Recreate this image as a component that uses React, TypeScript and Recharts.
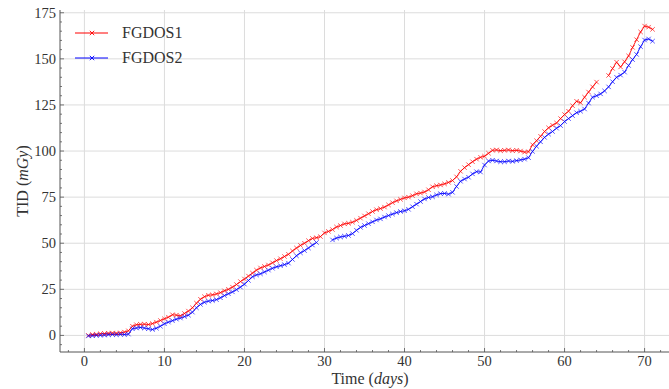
import { LineChart, Line, XAxis, YAxis, CartesianGrid } from 'recharts';

const days = [
  0.5, 1, 1.5, 2, 2.5, 3, 3.5, 4, 4.5, 5, 5.5, 6, 6.5, 7, 7.5, 8, 8.5, 9, 9.5, 10,
  10.5, 11, 11.5, 12, 12.5, 13, 13.5, 14, 14.5, 15, 15.5, 16, 16.5, 17, 17.5, 18, 18.5, 19, 19.5, 20,
  20.5, 21, 21.5, 22, 22.5, 23, 23.5, 24, 24.5, 25, 25.5, 26, 26.5, 27, 27.5, 28, 28.5, 29, 29.5, 30,
  30.5, 31, 31.5, 32, 32.5, 33, 33.5, 34, 34.5, 35, 35.5, 36, 36.5, 37, 37.5, 38, 38.5, 39, 39.5, 40,
  40.5, 41, 41.5, 42, 42.5, 43, 43.5, 44, 44.5, 45, 45.5, 46, 46.5, 47, 47.5, 48, 48.5, 49, 49.5, 50,
  50.5, 51, 51.5, 52, 52.5, 53, 53.5, 54, 54.5, 55, 55.5, 56, 56.5, 57, 57.5, 58, 58.5, 59, 59.5, 60,
  60.5, 61, 61.5, 62, 62.5, 63, 63.5, 64, 64.5, 65, 65.5, 66, 66.5, 67, 67.5, 68, 68.5, 69, 69.5, 70,
  70.5, 71,
];

// FGDOS1 (red)
const fgdos1 = [
  0.0, 0.5, 0.6, 0.9, 1.0, 1.2, 1.3, 1.2, 1.4, 1.8, 2.5, 5.0, 5.8, 6.0, 6.1, 5.9, 6.4, 7.2, 8.1, 9.0,
  9.9, 11.2, 11.0, 10.6, 11.9, 13.2, 15.0, 17.5, 19.6, 21.0, 21.8, 22.0, 22.5, 23.2, 24.2, 25.0, 26.2, 27.6, 29.2, 30.6,
  32.2, 33.8, 35.4, 36.6, 37.4, 38.2, 39.4, 40.6, 41.6, 42.8, 44.0, 45.8, 47.4, 48.8, 50.0, 51.4, 52.6, 53.0, 53.6, 55.6,
  56.4, 57.4, 58.8, 59.6, 60.5, 60.8, 61.4, 62.4, 63.6, 64.8, 66.0, 67.2, 68.2, 68.8, 69.6, 70.8, 72.0, 73.0, 73.8, 74.6,
  75.0, 75.8, 76.8, 77.2, 77.8, 79.0, 80.6, 81.2, 81.6, 82.2, 83.0, 84.0, 86.0, 89.0, 91.0, 92.6, 94.2, 95.6, 96.6, 97.2,
  98.8, 100.4, 100.6, 100.2, 100.4, 100.6, 100.2, 100.4, 100.0, 99.4, 99.6, 103.4, 105.6, 108.0, 110.6, 112.6, 114.0, 115.2, 117.6, 119.8,
  121.6, 124.6, 127.0, 126.2, 129.2, 132.0, 134.8, 137.4, null, null, 141.0, 144.8, 148.2, 145.6, 148.4, 151.6, 156.2, 160.4, 164.6, 167.8,
  167.2, 166.0,
];

// FGDOS2 (blue)
const fgdos2 = [
  -0.3, -0.2, 0.0, 0.1, 0.2, 0.4, 0.5, 0.4, 0.6, 0.5, 0.7, 3.6, 4.0, 4.3, 4.0, 3.6, 3.2, 3.9, 5.0, 6.3,
  7.2, 8.0, 8.8, 9.4, 10.2, 11.0, 12.6, 15.0, 16.8, 18.0, 18.6, 18.9, 19.4, 20.4, 21.6, 22.6, 23.6, 24.8, 26.2, 27.8,
  29.8, 31.8, 32.8, 33.4, 34.4, 35.4, 36.4, 37.2, 37.8, 38.4, 39.2, 41.2, 43.2, 44.8, 46.0, 47.4, 49.0, 50.4, null, null,
  null, 51.8, 52.8, 53.4, 53.8, 54.2, 55.2, 57.0, 58.6, 59.6, 60.6, 61.6, 62.6, 63.2, 64.2, 65.0, 65.8, 66.6, 67.2, 67.6,
  68.4, 69.8, 71.2, 72.6, 74.0, 74.8, 75.2, 76.2, 76.9, 77.0, 76.6, 77.6, 80.8, 83.6, 84.8, 85.8, 87.6, 88.8, 88.6, 92.4,
  94.6, 95.0, 94.6, 94.2, 94.2, 94.6, 94.4, 94.8, 95.2, 95.6, 96.4, 99.8, 102.6, 105.0, 107.4, 109.2, 110.6, 112.4, 113.8, 116.0,
  117.6, 119.2, 120.8, 121.6, 122.8, 126.0, 129.2, 130.0, 131.0, 132.6, 134.8, 137.6, 140.0, 141.2, 142.8, 146.4, 149.6, 152.4, 156.6, 160.2,
  160.8, 159.6,
];

const seriesNames = ['FGDOS1', 'FGDOS2'];
const xMajorTicks = [0, 10, 20, 30, 40, 50, 60, 70];
const yMajorTicks = [0, 25, 50, 75, 100, 125, 150, 175];

const data = days.map((d, i) => ({ day: d, FGDOS1: fgdos1[i], FGDOS2: fgdos2[i] }));

const xMinor: number[] = [];
for (let v = -2; v <= 74; v += 2) if (v % 10 !== 0) xMinor.push(v);
const yMinor: number[] = [];
for (let v = -5; v <= 175; v += 5) if (v % 25 !== 0) yMinor.push(v);
const xAllTicks = [...xMajorTicks, ...xMinor].sort((a, b) => a - b);
const yAllTicks = [...yMajorTicks, ...yMinor].sort((a, b) => a - b);

const FONT = '"Liberation Serif", "DejaVu Serif", serif';
const AXIS = '#555';
const TEXT = '#333';
const colors: Record<string, string> = { FGDOS1: '#ff0000', FGDOS2: '#0000ff' };

const BottomTick = (props: any) => {
  const { x, y, payload } = props;
  const major = xMajorTicks.includes(payload.value);
  return (
    <g>
      <line x1={x} x2={x} y1={y} y2={y - (major ? 4 : 2)} stroke={AXIS} strokeWidth={0.8} />
      {major && (
        <text x={x} y={y + 14} textAnchor="middle" fontFamily={FONT} fontSize={14.5} fill={TEXT}>
          {payload.value}
        </text>
      )}
    </g>
  );
};

const TopTick = (props: any) => {
  const { x, y, payload } = props;
  const major = xMajorTicks.includes(payload.value);
  return <line x1={x} x2={x} y1={y} y2={y + (major ? 4 : 2)} stroke={AXIS} strokeWidth={0.8} />;
};

const LeftTick = (props: any) => {
  const { x, y, payload } = props;
  const major = yMajorTicks.includes(payload.value);
  return (
    <g>
      <line x1={x} x2={x + (major ? 4 : 2)} y1={y} y2={y} stroke={AXIS} strokeWidth={0.8} />
      {major && (
        <text x={x - 4} y={y + 5} textAnchor="end" fontFamily={FONT} fontSize={14.5} fill={TEXT}>
          {payload.value}
        </text>
      )}
    </g>
  );
};

const crossDot = (color: string) => (props: any) => {
  const { cx, cy, index, value } = props;
  if (cx == null || cy == null || value == null) return <g key={index} />;
  const s = 2.2;
  return (
    <path
      key={index}
      d={`M${cx - s},${cy - s}L${cx + s},${cy + s}M${cx - s},${cy + s}L${cx + s},${cy - s}`}
      stroke={color}
      strokeWidth={0.9}
      strokeOpacity={0.75}
      fill="none"
    />
  );
};

// legend drawn as an overlay so it does not take space from the plot
const LegendBox = () => (
  <div style={{ position: 'absolute', left: 70, top: 20, fontFamily: FONT, fontSize: 16, color: TEXT }}>
    {seriesNames.map((name) => (
      <div key={name} style={{ display: 'flex', alignItems: 'center', height: 25 }}>
        <svg width={52} height={14}>
          <line x1={5} x2={38} y1={7} y2={7} stroke={colors[name]} strokeWidth={1} />
          <path d="M19.8,4.8L24.2,9.2M19.8,9.2L24.2,4.8" stroke={colors[name]} strokeWidth={0.9} />
        </svg>
        <span>{name}</span>
      </div>
    ))}
  </div>
);

export default function App() {
  return (
    <div style={{ position: 'absolute', left: 0, top: 0, width: 669, height: 389, overflow: 'hidden', background: '#fff' }}>
      <LineChart width={700} height={389} data={data} margin={{ top: 10, right: 15, bottom: 0, left: 0 }}>
        <CartesianGrid
          stroke="#dcdcdc"
          strokeWidth={1}
          horizontalValues={yMajorTicks}
          verticalValues={xMajorTicks}
        />
        <XAxis
          dataKey="day"
          type="number"
          domain={[-3.05, 75.05]}
          allowDataOverflow
          ticks={xAllTicks}
          interval={0}
          tickSize={0}
          tickMargin={0}
          tick={<BottomTick />}
          height={37}
          axisLine={{ stroke: AXIS, strokeWidth: 1 }}
          label={{
            content: () => (
              <text x={370} y={384} textAnchor="middle" fontFamily={FONT} fontSize={16} fill={TEXT}>
                Time (<tspan fontStyle="italic">days</tspan>)
              </text>
            ),
          }}
        />
        <XAxis
          xAxisId="top"
          orientation="top"
          dataKey="day"
          type="number"
          domain={[-3.05, 75.05]}
          allowDataOverflow
          ticks={xAllTicks}
          interval={0}
          tickSize={0}
          tickMargin={0}
          tick={<TopTick />}
          height={0}
          axisLine={{ stroke: AXIS, strokeWidth: 1 }}
        />
        <YAxis
          type="number"
          domain={[-9, 176.5]}
          allowDataOverflow
          ticks={yAllTicks}
          interval={0}
          tickSize={0}
          tickMargin={0}
          tick={<LeftTick />}
          width={60}
          axisLine={{ stroke: AXIS, strokeWidth: 1 }}
          label={{
            content: () => (
              <text
                x={22}
                y={181}
                transform="rotate(-90 22 181)"
                textAnchor="middle"
                dominantBaseline="central"
                fontFamily={FONT}
                fontSize={16}
                fill={TEXT}
              >
                TID (<tspan fontStyle="italic">mGy</tspan>)
              </text>
            ),
          }}
        />
        <Line
          dataKey="FGDOS1"
          stroke="#ff0000"
          strokeWidth={0.9}
          dot={crossDot('#ff0000')}
          activeDot={false}
          isAnimationActive={false}
        />
        <Line
          dataKey="FGDOS2"
          stroke="#0000ff"
          strokeWidth={0.9}
          dot={crossDot('#0000ff')}
          activeDot={false}
          isAnimationActive={false}
        />
      </LineChart>
      <LegendBox />
    </div>
  );
}
